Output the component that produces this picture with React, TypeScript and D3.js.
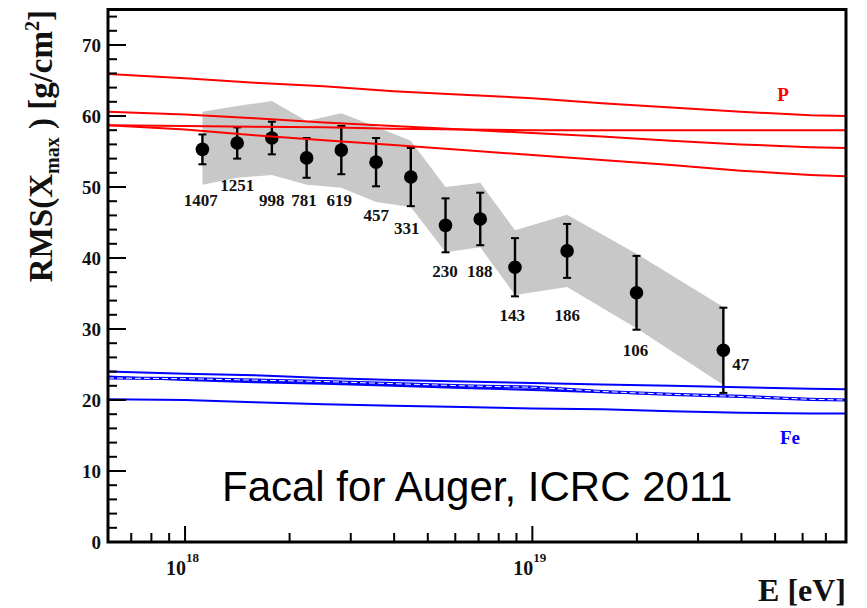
import React from "react";
import * as d3 from "d3";

// ---- Data ----
const binEnergies = [1.122e18, 1.413e18, 1.778e18, 2.239e18, 2.818e18, 3.548e18, 4.467e18, 5.623e18, 7.079e18, 8.913e18, 1.259e19, 1.995e19, 3.548e19];
const rmsValues = [55.3, 56.2, 56.9, 54.1, 55.2, 53.5, 51.4, 44.6, 45.5, 38.7, 41.0, 35.1, 27.0];
const statErrors = [2.1, 2.2, 2.3, 2.8, 3.4, 3.4, 4.1, 3.8, 3.7, 4.1, 3.8, 5.2, 6.0];
const sysUpper = [60.6, 61.4, 62.1, 59.3, 60.4, 58.5, 56.5, 50.0, 50.6, 43.9, 46.1, 40.6, 33.1];
const sysLower = [50.3, 51.3, 51.7, 50.3, 49.9, 47.9, 47.2, 40.8, 41.5, 34.8, 35.9, 30.1, 22.1];
const eventCounts = ["1407", "1251", "998", "781", "619", "457", "331", "230", "188", "143", "186", "106", "47"];
const countLabelE = [1.11e18, 1.413e18, 1.778e18, 2.2e18, 2.78e18, 3.55e18, 4.35e18, 5.6e18, 7.05e18, 8.75e18, 1.26e19, 1.98e19, 3.98e19];
const countLabelY = [47.3, 49.4, 47.3, 47.3, 47.3, 45.2, 43.4, 37.3, 37.3, 31.1, 31.1, 26.2, 24.2];

const modelEnergies = [6e17, 1e18, 1.585e18, 2.512e18, 3.981e18, 6.31e18, 1e19, 1.585e19, 2.512e19, 3.981e19, 6.31e19, 8e19];
const protonA = [65.9, 65.3, 64.7, 64.2, 63.5, 63.0, 62.5, 61.8, 61.2, 60.6, 60.1, 60.0];
const protonB = [58.7, 58.6, 58.5, 58.4, 58.2, 58.1, 58.0, 58.0, 58.0, 58.0, 58.0, 58.0];
const protonC = [60.6, 60.2, 59.7, 59.1, 58.6, 58.1, 57.6, 57.1, 56.5, 56.0, 55.6, 55.5];
const protonD = [58.7, 58.1, 57.3, 56.6, 55.9, 55.2, 54.5, 53.8, 53.1, 52.3, 51.7, 51.5];
const ironA = [24.0, 23.7, 23.5, 23.1, 22.8, 22.6, 22.4, 22.2, 22.0, 21.8, 21.6, 21.5];
const ironB = [23.3, 22.8, 22.5, 22.3, 22.0, 21.7, 21.4, 21.1, 20.8, 20.5, 20.1, 20.0];
const ironC = [23.1, 23.0, 22.8, 22.6, 22.3, 22.0, 21.8, 21.2, 20.8, 20.5, 20.1, 20.0];
const ironD = [20.1, 20.0, 19.7, 19.4, 19.2, 19.0, 18.8, 18.7, 18.4, 18.2, 18.1, 18.1];

const yTickValues = [0, 10, 20, 30, 40, 50, 60, 70];
const xTickValues = [1e18, 1e19];

const SERIF = "'Liberation Serif', 'Times New Roman', serif";
const SANS = "'Liberation Sans', Arial, sans-serif";

export default function App() {
  const W = 867;
  const H = 608;
  const left = 108, right = 846, top = 9.5, bottom = 542;
  const x = d3.scaleLog().domain([6e17, 8e19]).range([left, right]);
  const y = d3.scaleLinear().domain([0, 75]).range([bottom, top]);

  const line = d3
    .line<number>()
    .x((_, i) => x(modelEnergies[i]))
    .y((d) => y(d));

  const band = d3
    .area<number>()
    .x((_, i) => x(binEnergies[i]))
    .y0((_, i) => y(sysLower[i]))
    .y1((d) => y(d));

  const yMinor = d3.range(0, 76, 2).filter((v) => v % 10 !== 0 && v <= 75);
  const xMinor: number[] = [];
  [1e17, 1e18, 1e19].forEach((dec) => {
    for (let k = 2; k <= 9; k++) {
      const v = dec * k;
      if (v > 6.05e17 && v < 7.95e19) xMinor.push(v);
    }
  });

  const protonLines = [protonA, protonB, protonC, protonD];
  const ironLines = [ironA, ironB, ironD];

  return (
    <svg
      width={W}
      height={H}
      style={{ position: "absolute", left: 0, top: 0, background: "#fff" }}
    >
      <defs>
        <clipPath id="frame">
          <rect x={left} y={top} width={right - left} height={bottom - top} />
        </clipPath>
      </defs>
      <rect x={0} y={0} width={W} height={H} fill="#fff" />

      {/* systematic band */}
      <path d={band(sysUpper) || ""} fill="#c8c8c8" stroke="none" />

      {/* error bars and points */}
      {rmsValues.map((v, i) => {
        const cx = x(binEnergies[i]);
        const y1 = y(v + statErrors[i]);
        const y2 = y(v - statErrors[i]);
        return (
          <g key={i}>
            <line x1={cx} x2={cx} y1={y1} y2={y2} stroke="#000" strokeWidth={2.4} />
            <line x1={cx - 4} x2={cx + 4} y1={y1} y2={y1} stroke="#000" strokeWidth={2} />
            <line x1={cx - 4} x2={cx + 4} y1={y2} y2={y2} stroke="#000" strokeWidth={2} />
            <circle cx={cx} cy={y(v)} r={6.8} fill="#000" />
          </g>
        );
      })}

      {/* model lines */}
      <g clipPath="url(#frame)" fill="none">
        {protonLines.map((arr, i) => (
          <path key={"p" + i} d={line(arr) || ""} stroke="#ff0000" strokeWidth={2} />
        ))}
        {ironLines.map((arr, i) => (
          <path key={"f" + i} d={line(arr) || ""} stroke="#0000ff" strokeWidth={2} />
        ))}
        <path d={line(ironC) || ""} stroke="#0000ff" strokeWidth={3.2} />
        <path d={line(ironC) || ""} stroke="#ffffff" strokeWidth={1} strokeDasharray="6 3" />
      </g>

      {/* count labels */}
      {eventCounts.map((c, i) => (
        <text
          key={"c" + i}
          x={x(countLabelE[i])}
          y={y(countLabelY[i])}
          textAnchor="middle"
          fontFamily={SERIF}
          fontWeight="bold"
          fontSize={17}
          fill="#111"
        >
          {c}
        </text>
      ))}

      {/* frame */}
      <rect
        x={left}
        y={top}
        width={right - left}
        height={bottom - top}
        fill="none"
        stroke="#000"
        strokeWidth={3}
      />

      {/* y ticks */}
      {yTickValues.map((v) => (
        <g key={"yt" + v}>
          <line x1={left} x2={left + 18} y1={y(v)} y2={y(v)} stroke="#000" strokeWidth={2} />
          <text
            x={left - 7}
            y={y(v) + 6.5}
            textAnchor="end"
            fontFamily={SERIF}
            fontWeight="bold"
            fontSize={19}
            fill="#111"
          >
            {v}
          </text>
        </g>
      ))}
      {yMinor.map((v) => (
        <line key={"ym" + v} x1={left} x2={left + 9} y1={y(v)} y2={y(v)} stroke="#000" strokeWidth={2} />
      ))}

      {/* x ticks */}
      {xTickValues.map((v) => (
        <g key={"xt" + v}>
          <line x1={x(v)} x2={x(v)} y1={bottom} y2={bottom - 16} stroke="#000" strokeWidth={2} />
          <text
            x={x(v) + 1}
            y={575}
            textAnchor="end"
            fontFamily={SERIF}
            fontWeight="bold"
            fontSize={20}
            fill="#111"
          >
            10
          </text>
          <text
            x={x(v) + 1}
            y={562}
            textAnchor="start"
            fontFamily={SERIF}
            fontWeight="bold"
            fontSize={13}
            fill="#111"
          >
            {Math.round(Math.log10(v))}
          </text>
        </g>
      ))}
      {xMinor.map((v) => (
        <line key={"xm" + v} x1={x(v)} x2={x(v)} y1={bottom} y2={bottom - 9} stroke="#000" strokeWidth={2} />
      ))}

      {/* axis titles */}
      <text
        x={right}
        y={601}
        textAnchor="end"
        fontFamily={SERIF}
        fontWeight="bold"
        fontSize={32}
        fill="#111"
      >
        E [eV]
      </text>
      <text
        transform="translate(52,10) rotate(-90)"
        textAnchor="end"
        fontFamily={SERIF}
        fontWeight="bold"
        fontSize={33}
        fill="#111"
      >
        RMS(X
        <tspan fontSize={20} dy={7}>max</tspan>
        <tspan dy={-7}> ) [g/cm</tspan>
        <tspan fontSize={20} dy={-13}>2</tspan>
        <tspan dy={13}>]</tspan>
      </text>

      {/* composition labels */}
      <text x={783} y={101} textAnchor="middle" fontFamily={SERIF} fontWeight="bold" fontSize={19} fill="#ff0000">
        P
      </text>
      <text x={790} y={444} textAnchor="middle" fontFamily={SERIF} fontWeight="bold" fontSize={19} fill="#0000ff">
        Fe
      </text>

      {/* annotation */}
      <text x={222} y={501} fontFamily={SANS} fontSize={42} fill="#000">
        Facal for Auger, ICRC 2011
      </text>
    </svg>
  );
}
